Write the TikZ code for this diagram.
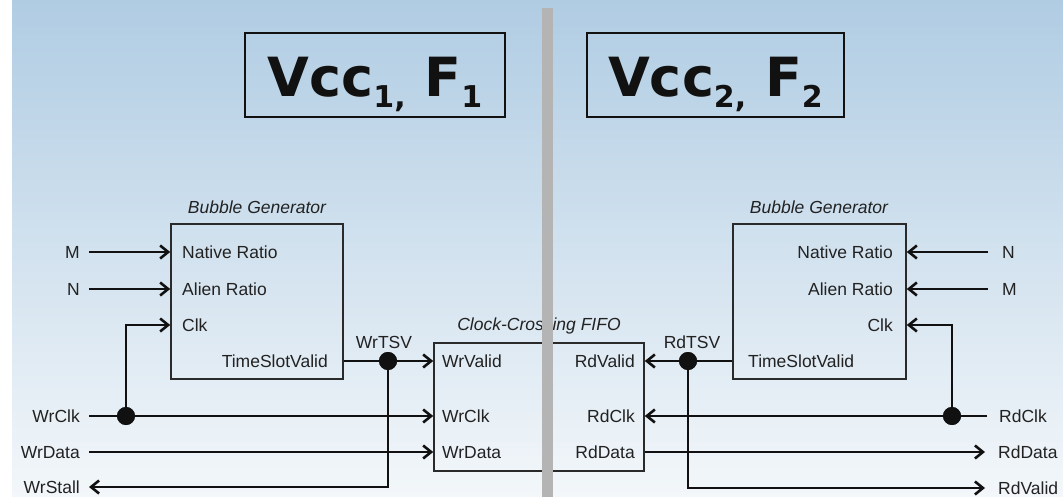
\documentclass[tikz,border=0pt]{standalone}
\usepackage{fontspec}
\setmainfont{Liberation Sans}
\newfontfamily\titlefont{DejaVu Sans}
\usetikzlibrary{arrows.meta}
\definecolor{bgtop}{HTML}{B0CCE3}
\definecolor{bgbot}{HTML}{F3F7FA}
\definecolor{ink}{HTML}{111111}
\definecolor{boxcol}{HTML}{2A2A2A}
\definecolor{txt}{HTML}{222222}
\definecolor{barcol}{HTML}{B4B4B4}
\newcommand{\tsub}[1]{\raisebox{-11pt}{\fontsize{30}{30}\selectfont #1}}
\begin{document}
\begin{tikzpicture}[x=1pt,y=-1pt,
 lbl/.style={font=\fontsize{17.5}{20}\selectfont, text=txt, inner sep=0pt, text height=12.5pt, text depth=0pt},
 ttl/.style={lbl, font=\fontsize{17.5}{20}\selectfont\itshape},
 blk/.style={draw=boxcol, line width=1.6pt, fill=none, inner sep=0pt},
 vbox/.style={draw=ink, line width=2pt, inner sep=0pt, text height=44pt, text depth=0pt,
   font=\titlefont\bfseries\fontsize{54}{54}\selectfont, text=ink},
 wire/.style={draw=ink, line width=2.6pt},
 arr/.style={wire, -{Straight Barb[length=8pt,width=13pt]}},
 dot/.style={circle, fill=ink, inner sep=0pt, minimum size=18pt}]
\useasboundingbox (0,0) rectangle (1063,497);
\fill[white] (0,0) rectangle (1063,497);
\shade[top color=bgtop, bottom color=bgbot] (12,0) rectangle (1063,497);

% domain titles
\node[vbox, minimum width=260pt, minimum height=84pt] (v1) at (375,75) {Vcc\tsub{1,} F\tsub{1}};
\node[vbox, minimum width=257pt, minimum height=84pt] (v2) at (715.5,75) {Vcc\tsub{2,} F\tsub{2}};

% left bubble generator
\node[blk, minimum width=172pt, minimum height=155pt] (bg1) at (257,301.5) {};
\node[ttl] (bg1t) at (257,207) {Bubble Generator};
\node[lbl, anchor=west] (nat1) at (182,252) {Native Ratio};
\node[lbl, anchor=west] (ali1) at (182,289) {Alien Ratio};
\node[lbl, anchor=west] (clk1) at (182,325) {Clk};
\node[lbl, anchor=east] (tsv1) at (328,361) {TimeSlotValid};
\node[lbl, anchor=east] (m1) at (80,252) {M};
\node[lbl, anchor=east] (n1) at (80,289) {N};
\node[lbl, anchor=east] (wrclk) at (80,416) {WrClk};
\node[lbl, anchor=east] (wrdata) at (80,452) {WrData};
\node[lbl, anchor=east] (wrstall) at (80,487) {WrStall};

% FIFO
\node[blk, minimum width=210pt, minimum height=128pt] (fifo) at (539,407) {};
\node[ttl] (fifot) at (539,324) {Clock-Crossing FIFO};
\node[lbl, anchor=west] (wrv) at (442,361) {WrValid};
\node[lbl, anchor=west] (wrc) at (442,416) {WrClk};
\node[lbl, anchor=west] (wrd) at (442,452) {WrData};
\node[lbl, anchor=east] (rdv) at (635,361) {RdValid};
\node[lbl, anchor=east] (rdc) at (635,416) {RdClk};
\node[lbl, anchor=east] (rdd) at (635,452) {RdData};

% right bubble generator
\node[blk, minimum width=173pt, minimum height=155pt] (bg2) at (819.5,301.5) {};
\node[ttl] (bg2t) at (819,207) {Bubble Generator};
\node[lbl, anchor=east] (nat2) at (893,252) {Native Ratio};
\node[lbl, anchor=east] (ali2) at (893,289) {Alien Ratio};
\node[lbl, anchor=east] (clk2) at (893,325) {Clk};
\node[lbl, anchor=west] (tsv2) at (748,361) {TimeSlotValid};
\node[lbl, anchor=west] (n2) at (1002,252) {N};
\node[lbl, anchor=west] (m2) at (1002,289) {M};
\node[lbl, anchor=west] (rdclk) at (999,416) {RdClk};
\node[lbl, anchor=west] (rddata) at (998,452) {RdData};
\node[lbl, anchor=west] (rdvalid) at (998,488) {RdValid};

% junctions
\node[dot] (j1) at (126,416) {};
\node[dot] (j2) at (388,361) {};
\node[dot] (j3) at (952,416) {};
\node[dot] (j4) at (688,361) {};
\node[lbl] (wrtsvl) at (384,342) {WrTSV};
\node[lbl] (rdtsvl) at (692,342) {RdTSV};

% left wires
\draw[arr] ([xshift=9pt]m1.east) -- (bg1.west |- nat1);
\draw[arr] ([xshift=9pt]n1.east) -- (bg1.west |- ali1);
\draw[arr] ([xshift=9pt]wrclk.east) -- (fifo.west |- wrc);
\draw[arr] (j1.center) |- (bg1.west |- clk1);
\draw[arr] ([xshift=9pt]wrdata.east) -- (fifo.west |- wrd);
\draw[arr] (bg1.east |- tsv1) -- (fifo.west |- wrv);
\draw[arr] (j2.center) |- ([xshift=9pt]wrstall.east);

% right wires
\draw[arr] ([xshift=-14pt]n2.west) -- (bg2.east |- nat2);
\draw[arr] ([xshift=-14pt]m2.west) -- (bg2.east |- ali2);
\draw[arr] ([xshift=-12pt]rdclk.west) -- (fifo.east |- rdc);
\draw[arr] (j3.center) |- (bg2.east |- clk2);
\draw[arr] (fifo.east |- rdd) -- ([xshift=-13pt]rddata.west);
\draw[arr] (bg2.west |- tsv2) -- (fifo.east |- rdv);
\draw[arr] (j4.center) |- ([xshift=-13pt]rdvalid.west);

% junction dots on top
\fill[ink] (j1) circle (9pt) (j2) circle (9pt) (j3) circle (9pt) (j4) circle (9pt);

% domain separator
\fill[barcol] (542,8) rectangle (553,497);
\end{tikzpicture}
\end{document}
